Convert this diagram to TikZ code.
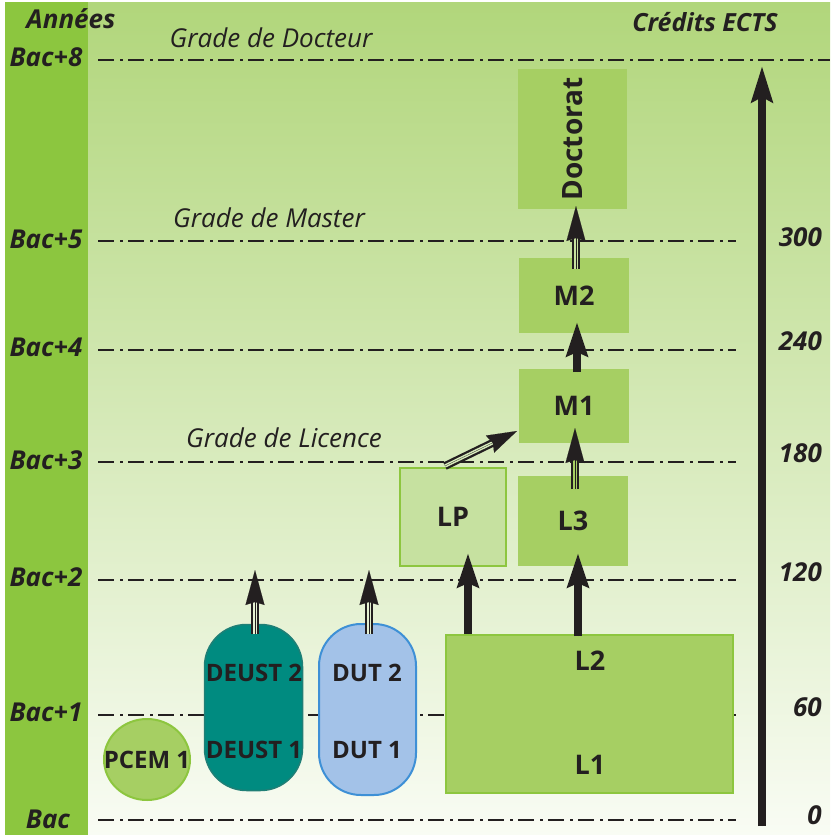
\documentclass[tikz,border=0pt]{standalone}
\usepackage{fontspec}
\setmainfont{Open Sans}
\usetikzlibrary{arrows.meta,shapes.geometric,calc}
\definecolor{ink}{HTML}{231F20}
\definecolor{band}{HTML}{8CC63F}
\definecolor{bgtop}{HTML}{B1D67B}
\definecolor{bgbot}{HTML}{F9FCF4}
\definecolor{boxg}{HTML}{A6CF63}
\definecolor{boxline}{HTML}{8DC63F}
\definecolor{lpfill}{HTML}{C6E1A0}
\definecolor{teal}{HTML}{008B80}
\definecolor{tealline}{HTML}{1F7F76}
\definecolor{dutfill}{HTML}{A3C2E8}
\definecolor{dutline}{HTML}{3E90D6}
\tikzset{
  lab/.style={font=\fontsize{26}{30}\selectfont\bfseries\itshape, text=ink, inner sep=0pt},
  num/.style={lab, anchor=east},
  grade/.style={font=\fontsize{26}{30}\selectfont\itshape, text=ink, inner sep=0pt},
  boxtxt/.style={font=\fontsize{27}{30}\selectfont\bfseries, text=ink, inner sep=0pt},
  smalltxt/.style={font=\fontsize{24}{28}\selectfont\bfseries, text=ink, inner sep=0pt},
  gbox/.style={fill=boxg, draw=none, inner sep=0pt, minimum width=110pt},
  ddl/.style={draw=ink, line width=2.5pt, dash pattern=on 16pt off 6pt on 2.5pt off 5.5pt},
  tarr/.style={draw=ink, fill=ink, line width=8pt, -{Stealth[length=34pt,width=21pt,inset=4pt]}},
  headonly/.style={draw=ink, fill=ink, line width=0.1pt, -{Stealth[length=35pt,width=19pt,inset=3pt]}},
  dshaft/.style={draw=ink, line width=2.3pt, double=#1, double distance=3.3pt, shorten >=28pt},
}
\begin{document}
\begin{tikzpicture}[x=1pt,y=-1pt]
\useasboundingbox (0,0) rectangle (830,835);
\fill[white] (0,0) rectangle (830,835);
\shade[top color=bgtop, bottom color=bgbot] (5,2) rectangle (830,835);
\fill[band] (5,2) rectangle (88,835);

% level lines
\draw[ddl] (98,60) -- (830,60);
\foreach \yy in {241,350,462,580,715,820} \draw[ddl] (98,\yy) -- (736,\yy);

% headers
\node[lab] (annees) at (71,19) {Années};
\node[lab, font=\fontsize{25}{30}\selectfont\bfseries\itshape] (ects) at (705,22) {Crédits ECTS};

% left labels
\node[lab] (b8) at (46,57) {Bac+8};
\node[lab] (b5) at (46,239) {Bac+5};
\node[lab] (b4) at (46,347) {Bac+4};
\node[lab] (b3) at (46,460) {Bac+3};
\node[lab] (b2) at (46,577) {Bac+2};
\node[lab] (b1) at (46,712) {Bac+1};
\node[lab] (b0) at (48,819) {Bac};

% right numbers
\node[num] (n300) at (822,237) {300};
\node[num] (n240) at (822,341) {240};
\node[num] (n180) at (822,453) {180};
\node[num] (n120) at (822,572) {120};
\node[num] (n60) at (822,707) {60};
\node[num] (n0) at (822,815) {0};

% grades
\node[grade] (gd) at (271,38) {Grade de Docteur};
\node[grade] (gm) at (269,218) {Grade de Master};
\node[grade] (gl) at (284,438) {Grade de Licence};

% boxes
\node[gbox, minimum width=109pt, minimum height=140pt] (doc) at (572.5,139) {};
\node[boxtxt, rotate=90, font=\fontsize{28}{30}\selectfont\bfseries] (doct) at (doc.center) {Doctorat};
\node[gbox, minimum height=75pt] (m2) at (574,295.5) {};
\node[boxtxt] (m2t) at (m2.center) {M2};
\node[gbox, minimum height=74pt] (m1) at (574,406) {};
\node[boxtxt] (m1t) at (m1.center) {M1};
\node[gbox, minimum height=90pt] (l3) at (573,521) {};
\node[boxtxt] (l3t) at (l3.center) {L3};
\node[fill=lpfill, draw=boxline, line width=2.5pt, minimum width=106pt, minimum height=98pt, inner sep=0pt] (lp) at (453,517) {};
\node[boxtxt] (lpt) at (lp.center) {LP};
\node[fill=boxg, draw=boxline, line width=2pt, minimum width=287pt, minimum height=158pt, inner sep=0pt] (l12) at (589.5,714) {};
\node[boxtxt] (l2t) at (590,661) {L2};
\node[boxtxt] (l1t) at (590,765) {L1};

\node[ellipse, fill=boxg, draw=boxline, line width=2pt, minimum width=86pt, minimum height=81pt, inner sep=0pt] (pcem) at (147,759.5) {};
\node[smalltxt] (pcemt) at (pcem.center) {PCEM 1};

\node[fill=teal, draw=tealline, line width=1.5pt, rounded corners=42pt, minimum width=98pt, minimum height=166pt, inner sep=0pt] (deust) at (253.5,707.5) {};
\node[smalltxt] (deust2) at (254,673) {DEUST 2};
\node[smalltxt] (deust1) at (254,750) {DEUST 1};

\node[fill=dutfill, draw=dutline, line width=2pt, rounded corners=42pt, minimum width=97pt, minimum height=171pt, inner sep=0pt] (dut) at (367.5,709.5) {};
\node[smalltxt] (dut2) at (367,673) {DUT 2};
\node[smalltxt] (dut1) at (367,750) {DUT 1};

% arrow end points
\coordinate (deustT) at (255,634);  \coordinate (deustH) at (255,570);
\coordinate (dutT) at (369,634);    \coordinate (dutH) at (369,570);
\coordinate (lpT) at (468,634);     \coordinate (lpH) at (468,553);
\coordinate (l3T) at (578,636);     \coordinate (l3H) at (578,553);
\coordinate (m1T) at (575,489);     \coordinate (m1H) at (575,428);
\coordinate (m2T) at (577,372);     \coordinate (m2H) at (577,322);
\coordinate (docT) at (576,269);    \coordinate (docH) at (576,206);
\coordinate (lpmT) at (445,466);    \coordinate (lpmH) at (517,431);
\coordinate (ectsT) at (762,826);   \coordinate (ectsH) at (762,66);

% thick arrows
\draw[tarr] (lpT) -- (lpH);
\draw[tarr] (l3T) -- (l3H);
\draw[tarr] (m2T) -- (m2H);
\draw[tarr, line width=7.5pt, -{Stealth[length=36pt,width=21pt,inset=5pt]}] (ectsT) -- (ectsH);

% double arrows
\draw[dshaft=bgtop!28!bgbot] (deustT) -- (deustH);
\draw[headonly] (deustT) -- (deustH);
\draw[dshaft=bgtop!28!bgbot] (dutT) -- (dutH);
\draw[headonly] (dutT) -- (dutH);
\draw[dshaft=boxg] (m1T) -- (m1H);
\draw[headonly] (m1T) -- (m1H);
\draw[dshaft=bgtop!70!bgbot] (docT) -- (docH);
\draw[headonly] (docT) -- (docH);
\draw[dshaft=bgtop!46!bgbot, shorten >=24pt] (lpmT) -- (lpmH);
\draw[headonly, -{Stealth[length=30pt,width=19pt,inset=3pt]}] (lpmT) -- (lpmH);
\end{tikzpicture}
\end{document}
